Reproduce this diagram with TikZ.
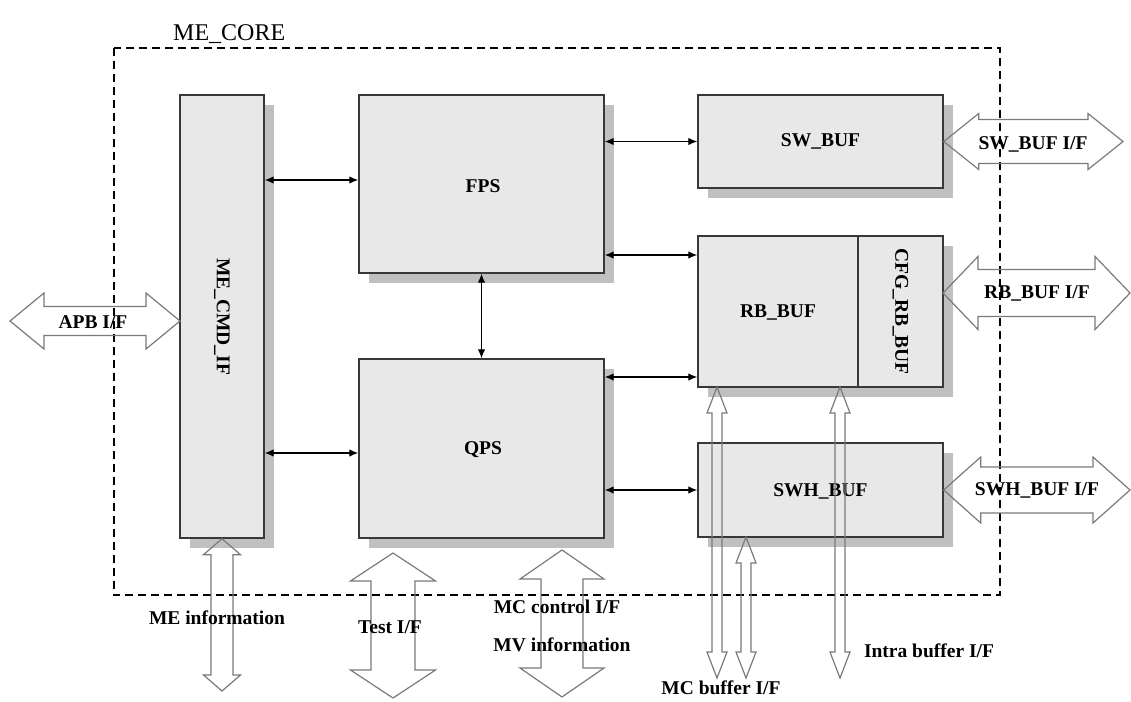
\documentclass[tikz,border=0pt]{standalone}
\usepackage{fontspec}
\setmainfont{Liberation Serif}
\usetikzlibrary{arrows.meta,calc,shadows}
\definecolor{boxfill}{HTML}{E8E8E8}
\definecolor{boxline}{HTML}{383838}
\definecolor{shadowc}{HTML}{C0C0C0}
\definecolor{arrline}{HTML}{7A7A7A}
\newcommand{\labfont}{\bfseries\fontsize{19.5}{22}\selectfont}
% horizontal double block arrow: left tip, right tip, shaft half, head half, head length
\newcommand{\HDbl}[5]{%
\draw[bigarrow] let \p1=(#1), \p2=(#2) in
 (\x1,\y1) -- (\x1+#5,\y1+#4) -- (\x1+#5,\y1+#3) -- (\x2-#5,\y1+#3) -- (\x2-#5,\y1+#4) -- (\x2,\y1)
 -- (\x2-#5,\y1-#4) -- (\x2-#5,\y1-#3) -- (\x1+#5,\y1-#3) -- (\x1+#5,\y1-#4) -- cycle;}
% vertical double block arrow: top tip, bottom tip, shaft half, head half, head length
\newcommand{\VDbl}[5]{%
\draw[bigarrow] let \p1=(#1), \p2=(#2) in
 (\x1,\y1) -- (\x1+#4,\y1-#5) -- (\x1+#3,\y1-#5) -- (\x1+#3,\y2+#5) -- (\x1+#4,\y2+#5) -- (\x1,\y2)
 -- (\x1-#4,\y2+#5) -- (\x1-#3,\y2+#5) -- (\x1-#3,\y1-#5) -- (\x1-#4,\y1-#5) -- cycle;}
\begin{document}
\begin{tikzpicture}[x=1pt,y=-1pt,
  blockbox/.style={draw=boxline, fill=boxfill, line width=1.4pt, inner sep=0pt,
    drop shadow={shadow xshift=10pt, shadow yshift=-10pt, fill=shadowc, opacity=1}},
  plainbox/.style={draw=boxline, line width=1.4pt, inner sep=0pt},
  conn/.style={line width=1.3pt, {Latex[length=9pt,width=7.5pt]}-{Latex[length=9pt,width=7.5pt]}},
  bigarrow/.style={draw=arrline, line width=1.2pt, line join=miter},
  lab/.style={font=\labfont, inner sep=0pt},
  coreline/.style={line width=1.5pt, dash pattern=on 8pt off 5pt}]
\useasboundingbox (0,0) rectangle (1131,701);

% ME_CORE dashed frame
\node[draw=none, inner sep=0pt] (core) at (557,321.5) [minimum width=886pt, minimum height=547pt] {};
\draw[coreline] (core.north west) rectangle (core.south east);
\node[anchor=base west, inner sep=0pt, font=\fontsize{24}{28}\selectfont] (corelabel) at (173,41) {ME\_CORE};

% blocks
\node[blockbox, minimum width=84pt, minimum height=443pt] (cmd) at (222,316.5) {};
\node[lab, rotate=-90] (cmdtext) at (cmd.center) {ME\_CMD\_IF};
\node[blockbox, minimum width=245pt, minimum height=178pt] (fps) at (481.5,184) {};
\node[lab] (fpstext) at (483,186) {FPS};
\node[blockbox, minimum width=245pt, minimum height=179pt] (qps) at (481.5,448.5) {};
\node[lab] (qpstext) at (483,450) {QPS};
\node[blockbox, minimum width=245pt, minimum height=93pt] (sw) at (820.5,141.5) {};
\node[lab] (swtext) at (820.5,141.5) {SW\_BUF};
\node[blockbox, minimum width=245pt, minimum height=151pt] (rb) at (820.5,311.5) {};
\node[plainbox, minimum width=85pt, minimum height=151pt] (cfg) at (900.5,311.5) {};
\node[lab] (rbtext) at (778,312) {RB\_BUF};
\node[lab, rotate=-90] (cfgtext) at (cfg.center) {CFG\_RB\_BUF};
\node[blockbox, minimum width=245pt, minimum height=94pt] (swh) at (820.5,490) {};
\node[lab] (swhtext) at (820.5,491) {SWH\_BUF};

% level coordinates
\coordinate (y180) at (0,180);
\coordinate (y453) at (0,453);
\coordinate (y255) at (0,255);
\coordinate (y377) at (0,377);

% small connectors
\draw[conn] (cmd.east |- y180) -- (fps.west |- y180);
\draw[conn] (cmd.east |- y453) -- (qps.west |- y453);
\draw[conn] (fps.east |- sw.west) -- (sw.west);
\draw[conn] (fps.east |- y255) -- (rb.west |- y255);
\draw[conn] (fps.south) -- (qps.north);
\draw[conn] (qps.east |- y377) -- (rb.west |- y377);
\draw[conn] (qps.east |- swh.west) -- (swh.west);

% interface end points
\coordinate (swR) at (1123,141.5);
\coordinate (rbL) at (943,293);
\coordinate (rbR) at (1130,293);
\coordinate (swhR) at (1130,490);
\coordinate (apbL) at (10,321);
\coordinate (apbR) at (180,321);
\coordinate (meB) at (222,691);
\coordinate (testT) at (393,553);
\coordinate (testB) at (393,698);
\coordinate (mcT) at (562,550);
\coordinate (mcB) at (562,697);
\coordinate (mb1T) at (717,387);
\coordinate (mb1B) at (717,678);
\coordinate (mb2T) at (746,537);
\coordinate (mb2B) at (746,678);
\coordinate (inT) at (840,387);
\coordinate (inB) at (840,678);

% block arrows
\HDbl{sw.east}{swR}{22pt}{28pt}{35pt}
\HDbl{rbL}{rbR}{23.5pt}{36.5pt}{35pt}
\HDbl{swh.east}{swhR}{23pt}{33pt}{37pt}
\HDbl{apbL}{apbR}{14.5pt}{28pt}{34pt}
\VDbl{cmd.south}{meB}{11pt}{18.5pt}{16pt}
\VDbl{testT}{testB}{22pt}{42.5pt}{28pt}
\VDbl{mcT}{mcB}{21pt}{42pt}{29pt}
\VDbl{mb1T}{mb1B}{5pt}{10pt}{26pt}
\VDbl{mb2T}{mb2B}{5pt}{10pt}{26pt}
\VDbl{inT}{inB}{5pt}{10pt}{26pt}

% interface labels
\node[lab] (swif) at (1033,144) {SW\_BUF I/F};
\node[lab] (rbif) at (1037,293) {RB\_BUF I/F};
\node[lab] (swhif) at (1037,490) {SWH\_BUF I/F};
\node[lab] (apbif) at (93,322) {APB I/F};
\node[lab] (meinfo) at (217,618) {ME information};
\node[lab] (testif) at (390,627) {Test I/F};
\node[lab] (mcctrl) at (557,607) {MC control I/F};
\node[lab] (mvinfo) at (562,645) {MV information};
\node[lab] (mcbuf) at (721,688) {MC buffer I/F};
\node[lab] (intra) at (929,651) {Intra buffer I/F};
\end{tikzpicture}
\end{document}
